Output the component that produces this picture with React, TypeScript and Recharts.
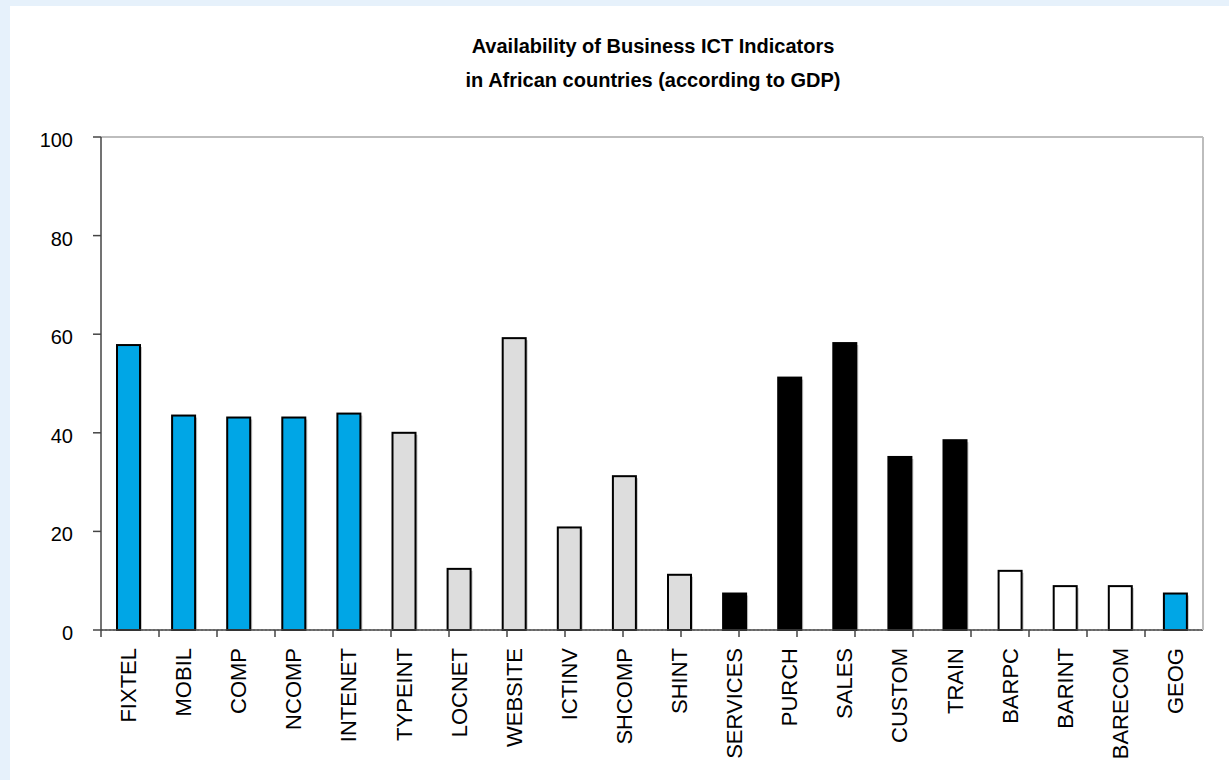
import React from "react";
import {
  BarChart,
  Bar,
  Cell,
  XAxis,
  YAxis,
  CartesianGrid,
} from "recharts";

const categories = [
  "FIXTEL", "MOBIL", "COMP", "NCOMP", "INTENET",
  "TYPEINT", "LOCNET", "WEBSITE", "ICTINV", "SHCOMP", "SHINT",
  "SERVICES", "PURCH", "SALES", "CUSTOM", "TRAIN",
  "BARPC", "BARINT", "BARECOM", "GEOG",
];
const values = [
  57.8, 43.5, 43.1, 43.1, 43.9,
  40.0, 12.4, 59.2, 20.8, 31.2, 11.2,
  7.4, 51.2, 58.2, 35.1, 38.5,
  12.0, 8.9, 8.9, 7.4,
];
// indicator group of each category: 0 = infrastructure, 1 = use, 2 = processes, 3 = barriers
const groups = [0, 0, 0, 0, 0, 1, 1, 1, 1, 1, 1, 2, 2, 2, 2, 2, 3, 3, 3, 0];
const groupColors = ["#00A6E6", "#DDDDDD", "#000000", "#FFFFFF"];
const yTicks = [0, 20, 40, 60, 80, 100];
const edgeTicks = Array.from({ length: categories.length + 1 }, (_, i) => i);

const data = categories.map((name, i) => ({ name, value: values[i], group: groups[i] }));

const FONT = "'Liberation Sans', Arial, sans-serif";

const XTick = (props: any) => {
  const { x, y, payload } = props;
  const ty = y + 17;
  return (
    <text
      x={x}
      y={ty}
      transform={`rotate(-90, ${x}, ${ty})`}
      textAnchor="end"
      dominantBaseline="central"
      fontSize={22}
      fontFamily={FONT}
      fill="#000"
    >
      {payload.value}
    </text>
  );
};

const YTick = (props: any) => {
  const { x, y, payload } = props;
  return (
    <text
      x={x}
      y={y + 3}
      textAnchor="end"
      dominantBaseline="central"
      fontSize={20}
      fontFamily={FONT}
      fill="#000"
    >
      {payload.value}
    </text>
  );
};

const NoLabel = () => <g />;

const ShadowBar = (props: any) => {
  const { x, y, width, height, fill } = props;
  if (!height || height <= 0) return null;
  return (
    <g>
      <rect x={x + 2} y={y + 2} width={width} height={height - 2} fill="#C8C8C8" />
      <rect x={x} y={y} width={width} height={height} fill={fill} stroke="#000" strokeWidth={2} />
    </g>
  );
};

export default function App() {
  return (
    <div
      style={{
        position: "absolute",
        left: 0,
        top: 0,
        width: 1229,
        height: 780,
        background: "#E6F1FB",
        fontFamily: FONT,
      }}
    >
      <div
        style={{
          position: "absolute",
          left: 10,
          top: 6,
          right: 0,
          bottom: 0,
          background: "#FFFFFF",
        }}
      />
      <div style={{ position: "absolute", left: 0, top: 0 }}>
        <BarChart
          width={1229}
          height={780}
          data={data}
          margin={{ top: 136, right: 25, bottom: 29, left: 41 }}
          barCategoryGap={0}
        >
          <text x={653} y={53} textAnchor="middle" fontSize={20} fontWeight="bold" fontFamily={FONT} fill="#000">
            Availability of Business ICT Indicators
          </text>
          <text x={653} y={87} textAnchor="middle" fontSize={20} fontWeight="bold" fontFamily={FONT} fill="#000">
            in African countries (according to GDP)
          </text>
          <CartesianGrid vertical={false} stroke="#999" strokeDasharray="2 2" />
          <XAxis
            xAxisId="a_edge"
            type="number"
            domain={[0, categories.length]}
            ticks={edgeTicks}
            allowDataOverflow
            height={1}
            tick={<NoLabel />}
            tickSize={7}
            tickLine={{ stroke: "#444", strokeWidth: 1.5 }}
            axisLine={{ stroke: "#444", strokeWidth: 1.5 }}
          />
          <XAxis
            xAxisId="b_cat"
            dataKey="name"
            height={120}
            interval={0}
            tickSize={0}
            tickMargin={0}
            tickLine={false}
            axisLine={false}
            tick={<XTick />}
          />
          <XAxis
            xAxisId="c_top"
            orientation="top"
            dataKey="name"
            height={1}
            tick={false}
            tickLine={false}
            axisLine={{ stroke: "#BDBDBD", strokeWidth: 2 }}
          />
          <YAxis
            yAxisId="left"
            domain={[0, 100]}
            ticks={yTicks}
            width={60}
            tickSize={8}
            tickMargin={20}
            tickLine={{ stroke: "#444", strokeWidth: 1.5 }}
            axisLine={{ stroke: "#444", strokeWidth: 1.5 }}
            tick={<YTick />}
          />
          <YAxis
            yAxisId="right"
            orientation="right"
            domain={[0, 100]}
            width={1}
            tick={false}
            tickLine={false}
            axisLine={{ stroke: "#BDBDBD", strokeWidth: 2 }}
          />
          <Bar
            dataKey="value"
            xAxisId="b_cat"
            yAxisId="left"
            barSize={23}
            shape={<ShadowBar />}
            isAnimationActive={false}
          >
            {data.map((d, i) => (
              <Cell key={`bar-${i}`} fill={groupColors[d.group]} />
            ))}
          </Bar>
        </BarChart>
      </div>
    </div>
  );
}
